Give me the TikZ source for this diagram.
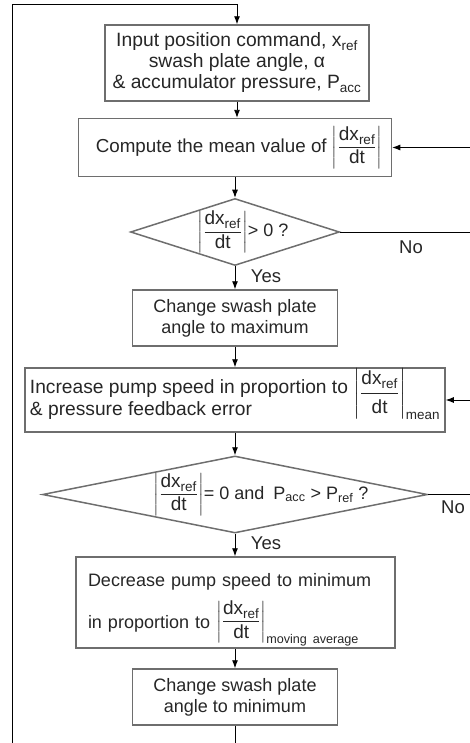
\documentclass[tikz,border=0pt]{standalone}
\usepackage{amsmath}
\usepackage{fontspec}
\setmainfont{Liberation Sans}
\usepackage{tikz}
\usetikzlibrary{positioning,calc,arrows.meta,shapes.geometric}
\usepackage{xcolor}
\definecolor{boxgray}{HTML}{6E6E6E}
\definecolor{inkgray}{HTML}{262626}
\newcommand{\absrate}{\left|\frac{\text{\fontsize{19}{19}\selectfont dx}_{\text{\fontsize{13.5}{14}\selectfont ref}}}%
    {\text{\fontsize{19}{19}\selectfont dt}}\right|}

\begin{document}
\begin{tikzpicture}[x=1pt,y=-1pt,
    every node/.style={font=\fontsize{18}{21}\selectfont,text=inkgray},
    procbox/.style={rectangle,draw=boxgray,line width=1.5pt,inner sep=8pt,align=center},
    decision/.style={diamond,draw=boxgray,line width=1.5pt,inner sep=0pt,
        text height=9pt,text depth=0pt},
    flow/.style={draw=black,line width=0.9pt,-{Latex[length=8pt,width=6pt]}},
    plain/.style={draw=black,line width=0.9pt},
    tag/.style={inner sep=0pt,font=\fontsize{18.5}{21}\selectfont}
    ]
% Organigramme de la commande pompe / plateau
\useasboundingbox (0,0) rectangle (470,743);

\node[procbox,minimum width=264pt,minimum height=68pt,inner xsep=4pt,
      font=\fontsize{19.3}{21}\selectfont] (input) at (237,63)
    {Input position command, x\textsubscript{ref}\\
     swash plate angle, α\\
     \& accumulator pressure, P\textsubscript{acc}};
\node[procbox,minimum width=313pt,minimum height=55pt,font=\fontsize{18.8}{21}\selectfont] (mean) at (235,147.5)
    {\hspace{8pt}Compute the mean value of $\displaystyle\absrate$};
\node[decision,minimum width=209pt,minimum height=67pt] (dec1) at (235,232)
    {\makebox[0pt]{\hspace{16pt}$\displaystyle\absrate$> 0 ?}};
\node[procbox,minimum width=205pt,minimum height=56pt] (maxangle) at (235,318)
    {Change swash plate\\angle to maximum};
\node[procbox,minimum width=420pt,minimum height=64pt,inner xsep=4pt,align=left,
      font=\fontsize{19.2}{22}\selectfont] (incr) at (235,400)
    {Increase pump speed in proportion to
     \smash{\raisebox{-5pt}{$\displaystyle\absrate_{\text{mean}}$}}\\
     \& pressure feedback error};
\node[decision,minimum width=385pt,minimum height=77pt] (dec2) at (235,494.5)
    {\makebox[0pt]{\hspace{52pt}$\displaystyle\absrate$= 0 and\enspace P\textsubscript{acc} > P\textsubscript{ref} ?}};
\node[procbox,minimum width=319pt,minimum height=91pt,text width=295pt,inner xsep=12pt,align=left] (decr) at (235.5,602.5)
    {Decrease pump speed to minimum\\[21pt]
     in proportion to
     \smash{\raisebox{2pt}{$\displaystyle\absrate_{\text{moving average}}$}}};
\node[procbox,minimum width=205pt,minimum height=56pt] (minangle) at (235,697)
    {Change swash plate\\angle to minimum};

% labels
\node[tag] (yes1) at (266,276) {Yes};
\node[tag] (no1) at (411,247) {No};
\node[tag] (yes2) at (266,543) {Yes};
\node[tag] (no2) at (453,507) {No};

% free ends at the edges
\coordinate (loopbot) at (12,743);
\coordinate (looptop) at (12,4);
\coordinate (outbot) at (235,743);
\coordinate (rin1) at (470,147.5);
\coordinate (rout1) at (470,232);
\coordinate (rin2) at (470,400);
\coordinate (rout2) at (470,494.5);

% connectors
\draw[flow] (loopbot) -- (looptop) -| (input.north);
\draw[flow] (input.south) -- (input.south |- mean.north);
\draw[flow] (mean.south) -- (dec1.north);
\draw[flow] (dec1.south) -- (maxangle.north);
\draw[flow] (maxangle.south) -- (incr.north);
\draw[flow] (incr.south) -- (dec2.north);
\draw[flow] (dec2.south) -- (decr.north -| dec2.south);
\draw[flow] (decr.south -| minangle.north) -- (minangle.north);
\draw[plain] (minangle.south) -- (outbot);
\draw[flow] (rin1) -- (mean.east);
\draw[plain] (dec1.east) -- (rout1);
\draw[flow] (rin2) -- (incr.east);
\draw[plain] (dec2.east) -- (rout2);
\end{tikzpicture}
\end{document}
